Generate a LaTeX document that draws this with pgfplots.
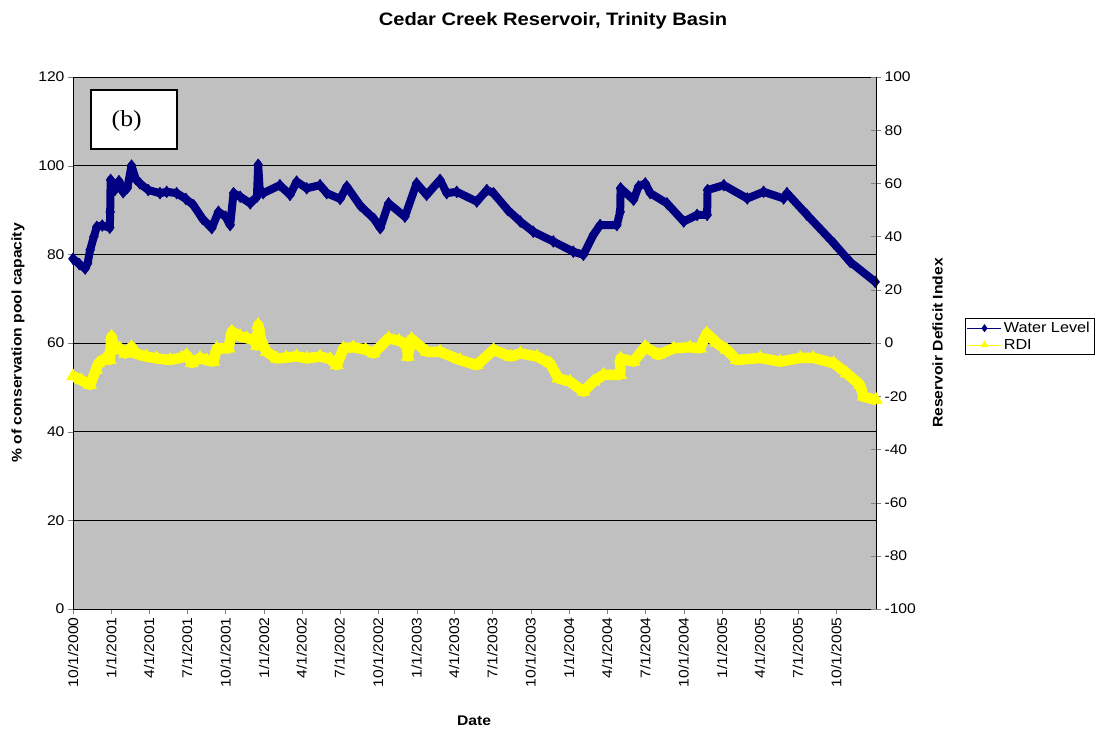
\documentclass[border=0pt]{standalone}
\usepackage{fontspec}
\setmainfont{Liberation Sans}[FakeStretch=1.12]
\newfontfamily\tnr{Liberation Serif}[FakeStretch=1.12]
\usepackage{pgfplots}
\usepackage{pgfplotstable}
\pgfplotsset{compat=1.18}

\definecolor{plotbg}{RGB}{192,192,192}
\definecolor{wlblue}{RGB}{0,0,128}
\definecolor{rdiyel}{RGB}{255,255,0}

% days since 10/1/2000, % of conservation pool
\pgfplotstableread{
day level
0 79.0
15 77.8
29 76.8
35 78.0
41 81.0
50 84.0
57 86.2
70 86.5
88 86.0
89 89.6
90 96.8
100 94.5
110 96.5
120 94.0
130 95.0
140 100.0
150 97.0
160 96.0
180 94.5
208 93.8
224 94.1
248 93.8
270 92.5
288 91.1
310 88.0
332 85.9
348 89.6
365 88.5
376 86.6
384 93.8
400 93.0
424 91.5
440 93.0
443 100.2
447 94.0
455 93.8
495 95.6
519 93.4
535 96.4
559 94.9
591 95.6
607 93.8
639 92.5
655 95.3
687 91.0
720 88.0
735 85.9
755 91.5
794 88.5
822 96.0
846 93.4
878 96.8
894 93.8
918 94.1
966 91.9
990 94.5
1006 93.8
1040 90.0
1070 87.4
1101 85.1
1149 82.9
1197 80.6
1221 79.9
1245 84.4
1261 86.6
1301 86.6
1309 89.6
1310 94.9
1341 92.3
1353 95.3
1369 96.0
1381 93.8
1421 91.5
1461 87.4
1493 88.9
1517 88.9
1518 94.5
1557 95.6
1613 92.6
1652 94.1
1700 92.6
1708 93.8
1756 88.9
1820 82.5
1859 78.3
1919 73.8
}\wl

% days since 10/1/2000, reservoir deficit index
\pgfplotstableread{
day rdi
0 -12.5
20 -14.0
41 -15.8
55 -10.0
61 -7.6
75 -6.0
88 -6.4
92 2.4
100 -2.5
112 -2.0
125 -4.0
140 -1.5
150 -4.0
176 -5.1
200 -5.8
232 -6.4
260 -5.5
272 -4.5
284 -7.6
304 -5.6
320 -6.5
336 -7.0
344 -2.0
372 -2.0
380 4.3
400 2.5
416 1.8
431 1.3
440 -1.0
443 6.8
450 1.0
463 -3.3
487 -5.8
510 -5.5
535 -5.0
560 -5.8
591 -5.1
615 -6.0
631 -8.3
647 -2.0
671 -1.6
700 -2.5
719 -3.9
755 1.8
780 0.8
799 -0.5
801 -5.1
810 1.5
846 -3.3
878 -3.3
926 -6.4
966 -8.3
1006 -2.6
1046 -5.1
1070 -3.9
1110 -5.1
1141 -7.6
1161 -13.3
1189 -14.5
1221 -18.3
1245 -14.5
1269 -12.0
1309 -12.0
1310 -5.8
1341 -7.0
1369 -1.4
1400 -4.5
1437 -2.0
1476 -1.6
1500 -2.0
1516 3.6
1540 0.0
1564 -2.6
1588 -6.4
1644 -5.6
1692 -7.0
1740 -5.6
1771 -5.6
1820 -7.6
1851 -11.4
1883 -15.8
1891 -20.2
1921 -21.4
}\rdi

\pgfplotsset{
  basestyle/.style={
    scale only axis, width=803pt, height=532pt,
    xmin=0, xmax=1921,
    /pgf/number format/assume math mode=true,
    tick label style={font=\fontsize{14}{16}\selectfont},
  }
}

\begin{document}
\begin{tikzpicture}
\path[use as bounding box] (-73pt,-122pt) rectangle (1029pt,609pt);
\begin{axis}[basestyle,
  axis x line*=bottom, axis y line*=left,
  ymin=0, ymax=120, ytick distance=20,
  xtick={0,92,182,273,365,457,547,638,730,822,912,1003,1095,1187,1278,1369,1461,1553,1643,1734,1826},
  xticklabels={10/1/2000,1/1/2001,4/1/2001,7/1/2001,10/1/2001,1/1/2002,4/1/2002,7/1/2002,10/1/2002,1/1/2003,4/1/2003,7/1/2003,10/1/2003,1/1/2004,4/1/2004,7/1/2004,10/1/2004,1/1/2005,4/1/2005,7/1/2005,10/1/2005},
  xticklabel style={rotate=90, anchor=east},
  tick align=outside, major tick length=5pt,
  ymajorgrids, grid style={black, line width=0.5pt},
  axis background/.style={fill=plotbg, draw=gray},
  title={Cedar Creek Reservoir, Trinity Basin},
  every axis title/.style={at={(axis description cs:0.5978,1.0972)}, anchor=base,
    font=\bfseries\fontsize{18}{20}\selectfont},
  xlabel={Date},
  every axis x label/.style={at={(axis description cs:0.4994,-0.2105)}, anchor=center,
    font=\bfseries\fontsize{14}{16}\selectfont},
  ylabel={\% of conservation pool capacity},
  every axis y label/.style={at={(axis description cs:-0.0685,0.5)}, rotate=90, anchor=center,
    font=\bfseries\fontsize{14}{16}\selectfont},
]
\addplot[wlblue, line width=8pt, line join=round, line cap=round, mark=diamond*, mark size=6pt,
  mark options={line width=0.4pt}] table[x=day, y=level] {\wl};
\end{axis}
\begin{axis}[basestyle,
  axis x line=none, axis y line*=right,
  ymin=-100, ymax=100, ytick distance=20,
  ytick align=center, major tick length=10pt,
  ylabel={Reservoir Deficit Index},
  every axis y label/.style={at={(axis description cs:1.0766,0.5)}, rotate=90, anchor=center,
    font=\bfseries\fontsize{14}{16}\selectfont},
  legend style={at={(axis description cs:1.1108,0.547)}, anchor=north west,
    draw=black, fill=white, font=\fontsize{14.5}{16}\selectfont,
    inner xsep=2pt, inner ysep=2pt, row sep=1pt},
  legend cell align=left,
  legend image code/.code={\draw[mark repeat=2, mark phase=2, #1]
    plot coordinates {(0pt,0pt) (17pt,0pt) (34pt,0pt)};},
]
\addlegendimage{wlblue, line width=0.6pt, mark=diamond*, mark size=3.5pt}
\addlegendentry{Water Level}
\addlegendimage{rdiyel, line width=0.6pt, mark=triangle*, mark size=4pt}
\addlegendentry{RDI}
\addplot[rdiyel, line width=10.5pt, line join=round, line cap=round, mark=triangle*, mark size=7.5pt,
  mark options={line width=0.4pt}, forget plot] table[x=day, y=rdi] {\rdi};
\end{axis}
\draw[line width=2pt, fill=white] (17.7pt,459.7pt) rectangle (104.3pt,519pt);
\node[font=\tnr\fontsize{23}{25}\selectfont] at (53.7pt,488.3pt) {(b)};
\end{tikzpicture}
\end{document}
